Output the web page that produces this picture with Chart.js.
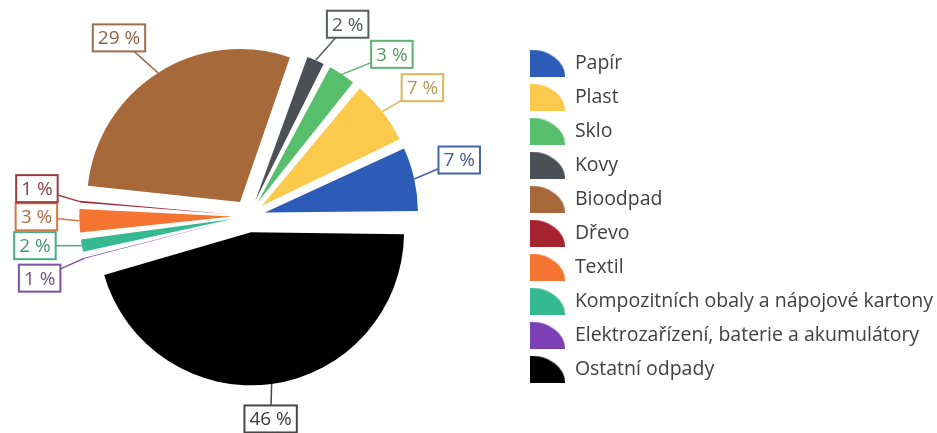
<!DOCTYPE html>
<html><head><meta charset="utf-8">
<script src="https://cdn.jsdelivr.net/npm/chart.js@4.4.0/dist/chart.umd.min.js"></script>
<style>html,body{margin:0;padding:0;background:#fff;}#wrap{width:937px;height:433px;position:relative;overflow:hidden;}#c{position:absolute;left:-18px;top:0;}</style>
</head><body><div id="wrap"><canvas id="c" width="955" height="433"></canvas></div>
<script>
// ---- data (percent shares) ----
const categories = ['Papír','Plast','Sklo','Kovy','Bioodpad','Dřevo','Textil','Kompozitních obaly a nápojové kartony','Elektrozařízení, baterie a akumulátory','Ostatní odpady'];
const shares = [7.0,7.1,3.3,2.3,28.6,0.7,2.9,1.8,0.6,45.7];
// ---- styles ----
const colors = ['#2C5BB8','#FBC94C','#57BE6C','#4B5057','#A7683A','#A6242F','#F47431','#35B98F','#7D40B4','#000000'];
const labelNudge = [[45,-19],[40,-24],[50,-20],[32,-36],[-39,-35],[-43,-13],[-43,-4],[-47,0],[-45,20],[-1,35]];
const EXPLODE = 66; // arc offset option (drawn translation = EXPLODE/4)

function mix(a, b, t){
  const p = h => [1,3,5].map(i => parseInt(h.substr(i,2),16));
  const A = p(a), B = p(b);
  return 'rgb(' + A.map((v,k)=>Math.round(v*(1-t)+B[k]*t)).join(',') + ')';
}
const n = categories.length;
const rev = arr => arr.slice().reverse();

function makeIcon(color){
  const cv = document.createElement('canvas');
  cv.width = 35; cv.height = 27;
  const g = cv.getContext('2d');
  g.fillStyle = color;
  g.beginPath();
  g.moveTo(0, 27);
  g.ellipse(0, 27, 35, 27, 0, -Math.PI/2, 0);
  g.closePath();
  g.fill();
  return cv;
}
const iconsRev = rev(colors).map(makeIcon);

const explodeFix = {
  id: 'explodeFix',
  beforeDatasetsDraw(chart){
    const meta = chart.getDatasetMeta(0);
    const R = meta.controller.outerRadius;
    const q = EXPLODE / 4;
    meta.data.forEach(arc => {
      const fix = 1 - Math.sin(Math.min(Math.PI, arc.circumference || 0));
      arc.outerRadius = R - q * fix;
    });
  }
};

const boxLabels = {
  id: 'boxLabels',
  afterDatasetsDraw(chart){
    const ctx = chart.ctx;
    const meta = chart.getDatasetMeta(0);
    const R = meta.controller.outerRadius;
    const q = EXPLODE / 4;
    ctx.save();
    ctx.font = '19px "Open Sans"';
    ctx.textAlign = 'center';
    ctx.textBaseline = 'middle';
    meta.data.forEach((arc, j) => {
      const i = n - 1 - j;
      const mid = (arc.startAngle + arc.endAngle) / 2;
      const ax = arc.x + Math.cos(mid) * (R + q);
      const ay = arc.y + Math.sin(mid) * (R + q);
      const lx = ax + labelNudge[i][0], ly = ay + labelNudge[i][1];
      const txt = Math.round(shares[i]) + ' %';
      const w = ctx.measureText(txt).width + 10, h = 27;
      const c = colors[i] === '#000000' ? '#333333' : colors[i];
      const border = mix(c, '#808080', 0.25);
      const textC = colors[i] === '#000000' ? '#3a3a3a' : mix(c, '#606060', 0.45);
      const dx = lx - ax, dy = ly - ay;
      const tx = dx !== 0 ? (Math.abs(dx) - w/2) / Math.abs(dx) : 0;
      const ty = dy !== 0 ? (Math.abs(dy) - h/2) / Math.abs(dy) : 0;
      const t = Math.max(0, Math.max(tx, ty));
      ctx.strokeStyle = border;
      ctx.lineWidth = 1.5;
      ctx.beginPath();
      ctx.moveTo(ax, ay);
      ctx.lineTo(ax + dx * t, ay + dy * t);
      ctx.stroke();
      ctx.fillStyle = '#fff';
      ctx.fillRect(lx - w/2, ly - h/2, w, h);
      ctx.lineWidth = 2;
      ctx.strokeRect(lx - w/2, ly - h/2, w, h);
      ctx.fillStyle = textC;
      ctx.fillText(txt, lx, ly + 1);
    });
    ctx.restore();
  }
};

new Chart(document.getElementById('c'), {
  type: 'pie',
  data: {
    labels: rev(categories),
    datasets: [{
      data: rev(shares),
      backgroundColor: rev(colors),
      borderWidth: 0,
      offset: EXPLODE
    }]
  },
  options: {
    responsive: false,
    animation: false,
    events: [],
    rotation: 90,
    radius: 153,
    layout: { padding: { left: 0, right: -6, top: 0, bottom: 1 } },
    plugins: {
      tooltip: { enabled: false },
      legend: {
        position: 'right',
        reverse: true,
        labels: {
          font: { family: '"Open Sans"', size: 19.5 },
          color: '#404040',
          usePointStyle: true,
          pointStyleWidth: 35,
          padding: 14.5,
          generateLabels(chart){
            const items = Chart.overrides.pie.plugins.legend.labels.generateLabels(chart);
            items.forEach(it => { it.pointStyle = iconsRev[it.index]; it.fontColor = '#404040'; });
            return items;
          }
        }
      }
    }
  },
  plugins: [explodeFix, boxLabels]
});
</script>
</body></html>
